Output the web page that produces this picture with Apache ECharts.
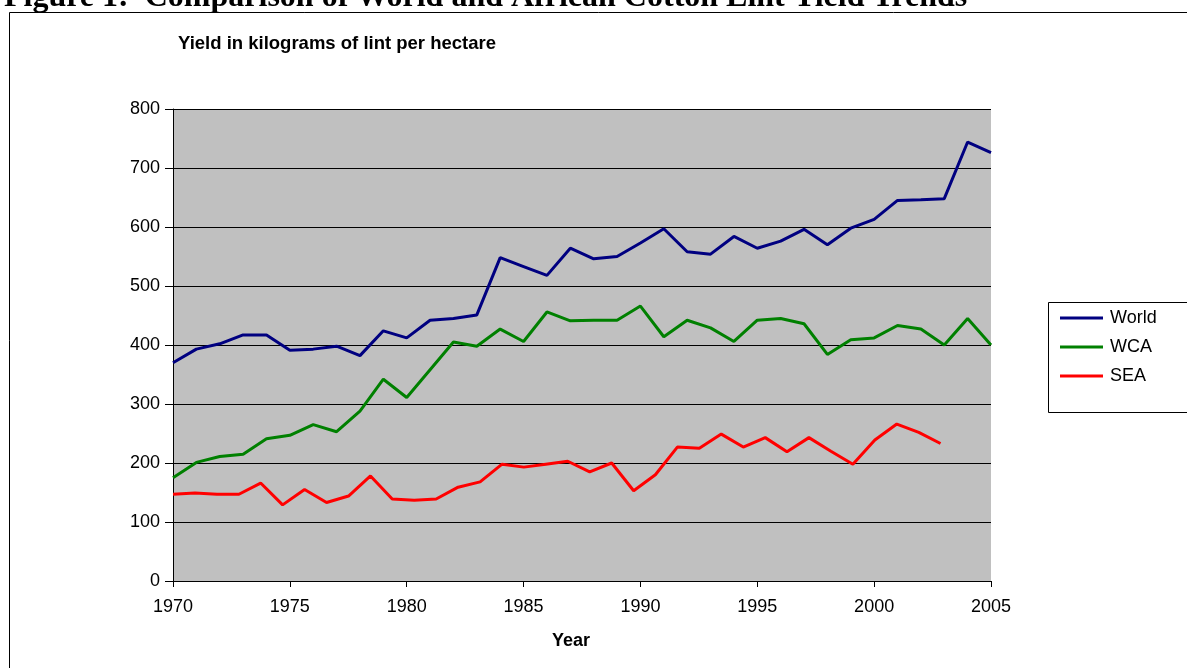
<!DOCTYPE html>
<html>
<head>
<meta charset="utf-8">
<script src="https://cdn.jsdelivr.net/npm/echarts@6/dist/echarts.min.js"></script>
<style>
  html, body { margin: 0; padding: 0; background: #fff; }
  #chart { width: 1187px; height: 668px; }
</style>
</head>
<body>
<div id="chart"></div>
<script>
// years for World and WCA
const years = [1970, 1971, 1972, 1973, 1974, 1975, 1976, 1977, 1978, 1979, 1980, 1981,
  1982, 1983, 1984, 1985, 1986, 1987, 1988, 1989, 1990, 1991, 1992, 1993,
  1994, 1995, 1996, 1997, 1998, 1999, 2000, 2001, 2002, 2003, 2004, 2005]
const world = [370, 393, 402, 417, 417, 391, 393, 398, 382, 424, 412, 442,
  445, 451, 548, 533, 518, 564, 546, 550, 573, 597, 558, 554,
  584, 564, 576, 596, 570, 598, 613, 645, 646, 648, 744, 726]
const wca = [175, 201, 211, 215, 241, 247, 265, 253, 288, 342, 311, 358,
  405, 398, 427, 406, 456, 441, 442, 442, 466, 414, 442, 429,
  406, 442, 445, 436, 384, 409, 412, 433, 427, 400, 445, 400]
// SEA points sit at their own x positions in the original
const seaX = [1970.00, 1970.94, 1971.88, 1972.82, 1973.75, 1974.69, 1975.63, 1976.57, 1977.51,
  1978.45, 1979.38, 1980.32, 1981.26, 1982.20, 1983.14, 1984.08, 1985.01, 1985.95,
  1986.89, 1987.83, 1988.77, 1989.71, 1990.64, 1991.58, 1992.52, 1993.46, 1994.40,
  1995.34, 1996.27, 1997.21, 1998.15, 1999.09, 2000.03, 2000.97, 2001.91, 2002.84]
const sea = [147, 149, 147, 147, 166, 129, 155, 133, 144, 178, 139, 137,
  139, 159, 168, 198, 193, 198, 203, 185, 200, 153, 180, 227,
  225, 249, 227, 243, 219, 243, 220, 198, 239, 266, 252, 233]

const font = 'Arial, "Liberation Sans", sans-serif'

const myChart = echarts.init(document.getElementById('chart'))

const pairs = (xs, ys) => ys.map((v, i) => [xs[i], v])

const lineSeries = (name, color, data) => ({
  name: name,
  type: 'line',
  data: data,
  symbol: 'none',
  lineStyle: { color: color, width: 3 },
  itemStyle: { color: color },
})

const options = {
  animation: false,
  backgroundColor: '#fff',
  textStyle: { fontFamily: font, color: '#000' },
  grid: { left: 173, right: 196, top: 109, bottom: 87, show: true, backgroundColor: '#c0c0c0', borderWidth: 0 },
  graphic: [
    // outer chart frame
    { type: 'rect', shape: { x: 9.5, y: 12.5, width: 1200, height: 700 }, style: { fill: 'none', stroke: '#000', lineWidth: 1 }, z: 0 },
    // figure caption, cut at the top
    { type: 'text', x: 4, y: -18, style: { text: 'Figure 1:  Comparison of World and African Cotton Lint Yield Trends', font: 'bold 32px "Liberation Serif", "Times New Roman", serif', fill: '#000' } },
    { type: 'text', x: 178, y: 34, style: { text: 'Yield in kilograms of lint per hectare', font: 'bold 18.5px ' + font, fill: '#000' } },
    { type: 'text', x: 571, y: 632, style: { text: 'Year', font: 'bold 18px ' + font, fill: '#000', align: 'center' } },
    // legend frame
    { type: 'rect', shape: { x: 1048.5, y: 302.5, width: 150, height: 110 }, style: { fill: '#fff', stroke: '#000', lineWidth: 1 }, z: 1 },
  ],
  legend: {
    orient: 'vertical',
    left: 1060,
    top: 309,
    padding: 0,
    icon: 'rect',
    itemWidth: 43,
    itemHeight: 3,
    itemGap: 11,
    z: 5,
    textStyle: { fontSize: 18, fontFamily: font, color: '#000', padding: [0, 0, 0, 2] },
    data: ['World', 'WCA', 'SEA'],
  },
  xAxis: {
    type: 'value',
    min: 1970,
    max: 2005,
    interval: 5,
    splitLine: { show: false },
    axisLine: { show: true, onZero: false, lineStyle: { color: '#000', width: 1 } },
    axisTick: { show: true, length: 6, lineStyle: { color: '#000' } },
    axisLabel: { color: '#000', fontSize: 18, fontFamily: font, margin: 17, formatter: (v) => String(v) },
  },
  yAxis: {
    type: 'value',
    min: 0,
    max: 800,
    interval: 100,
    splitLine: { show: true, lineStyle: { color: '#000', width: 1 } },
    axisLine: { show: true, lineStyle: { color: '#000', width: 1 } },
    axisTick: { show: true, length: 8, lineStyle: { color: '#000' } },
    axisLabel: { color: '#000', fontSize: 18, fontFamily: font, margin: 13 },
  },
  series: [
    lineSeries('World', '#000080', pairs(years, world)),
    lineSeries('WCA', '#008000', pairs(years, wca)),
    lineSeries('SEA', '#ff0000', pairs(seaX, sea)),
  ],
}
myChart.setOption(options)
</script>
</body>
</html>
